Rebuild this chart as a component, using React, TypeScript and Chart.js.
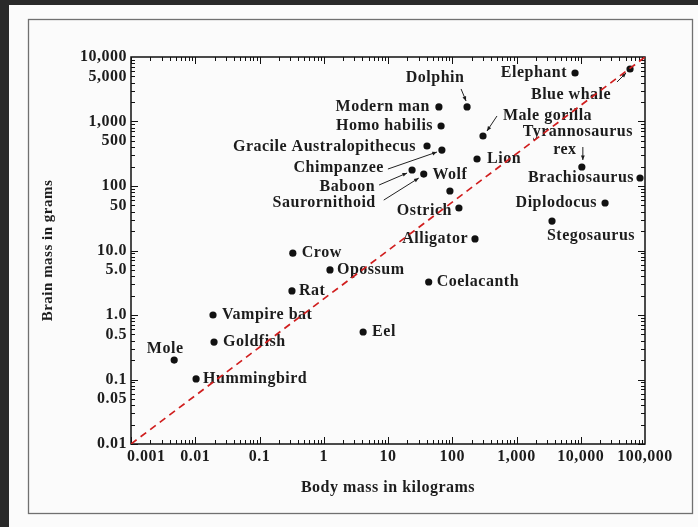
import React, { useEffect, useRef } from "react";
import { Chart, registerables } from "chart.js";

Chart.register(...registerables);

// ---------------- data ----------------
const species = [
  "Hummingbird", "Mole", "Goldfish", "Vampire bat", "Rat", "Crow", "Opossum", "Eel",
  "Coelacanth", "Alligator", "Ostrich", "Wolf", "Saurornithoid", "Baboon", "Chimpanzee",
  "Gracile Australopithecus", "Homo habilis", "Modern man", "Dolphin", "Male gorilla", "Lion",
  "Elephant", "Blue whale", "Tyrannosaurus\nrex", "Brachiosaurus", "Diplodocus", "Stegosaurus",
];
const bodyMassKg = [
  0.0103, 0.0047, 0.0196, 0.0189, 0.32, 0.33, 1.25, 4.1,
  43, 226, 127, 92, 36, 23.7, 69,
  40.5, 67, 62, 170, 301, 243,
  8150, 58500, 10400, 83600, 23900, 3570,
];
const brainMassG = [
  0.102, 0.2, 0.38, 1.0, 2.36, 9.1, 5.0, 0.545,
  3.25, 15.1, 45.6, 83.6, 153, 177, 361,
  417, 851, 1680, 1680, 596, 262,
  5650, 6520, 197, 133, 54.5, 28.6,
];
const xTickValues = [0.001, 0.01, 0.1, 1, 10, 100, 1000, 10000, 100000];
const xTickLabels = ["0.001", "0.01", "0.1", "1", "10", "100", "1,000", "10,000", "100,000"];
const yTickValues = [0.01, 0.05, 0.1, 0.5, 1, 5, 10, 50, 100, 500, 1000, 5000, 10000];
const yTickLabels = ["0.01", "0.05", "0.1", "0.5", "1.0", "5.0", "10.0", "50", "100", "500", "1,000", "5,000", "10,000"];
const trendBodyKg = [0.001, 100000];
const trendBrainG = [0.01, 10000];
const xTitle = "Body mass in kilograms";
const yTitle = "Brain mass in grams";

// ---------------- label layout (pixel offsets from each point) ----------------
type Lay = { dx: number; dy: number; align: CanvasTextAlign; dx2?: number; dy2?: number; align2?: CanvasTextAlign; arrow?: number[] };
const labelLayout: Lay[] = [
  { dx: 7, dy: 0, align: "left" },          // Hummingbird
  { dx: -9, dy: -11, align: "center" },     // Mole
  { dx: 9, dy: 0, align: "left" },          // Goldfish
  { dx: 9, dy: 0, align: "left" },          // Vampire bat
  { dx: 7, dy: 0, align: "left" },          // Rat
  { dx: 9, dy: 0, align: "left" },          // Crow
  { dx: 7, dy: 0, align: "left" },          // Opossum
  { dx: 9, dy: 0, align: "left" },          // Eel
  { dx: 8, dy: 0, align: "left" },          // Coelacanth
  { dx: -7, dy: 0, align: "right" },        // Alligator
  { dx: -7, dy: 3, align: "right" },        // Ostrich
  { dx: 0, dy: -16, align: "center" },      // Wolf
  { dx: -48, dy: 29, align: "right", arrow: [-40, 26, -5, 4] },   // Saurornithoid
  { dx: -37, dy: 17, align: "right", arrow: [-33, 15, -5, 3] },   // Baboon
  { dx: -58, dy: 18, align: "right", arrow: [-54, 19, -5, 2] },   // Chimpanzee
  { dx: -11, dy: 1, align: "right" },       // Gracile Australopithecus
  { dx: -8, dy: 0, align: "right" },        // Homo habilis
  { dx: -9, dy: 0, align: "right" },        // Modern man
  { dx: -32, dy: -29, align: "center", arrow: [-6, -18, -1, -6] }, // Dolphin
  { dx: 20, dy: -20, align: "left", arrow: [14, -20, 4, -5] },     // Male gorilla
  { dx: 10, dy: 0, align: "left" },         // Lion
  { dx: -8, dy: 0, align: "right" },        // Elephant
  { dx: -59, dy: 26, align: "center", arrow: [-13, 13, -4, 4] },   // Blue whale
  { dx: -4, dy: -35, align: "center", dx2: -17, dy2: -17, align2: "center", arrow: [1, -20, 1, -7] }, // T. rex
  { dx: -6, dy: 0, align: "right" },        // Brachiosaurus
  { dx: -8, dy: 0, align: "right" },        // Diplodocus
  { dx: 39, dy: 15, align: "center" },      // Stegosaurus
];

const FONT = "'Liberation Serif', 'Times New Roman', serif";
const INK = "#1c1c1c";
const SPACING = "0.5px";

function drawArrow(ctx: CanvasRenderingContext2D, x1: number, y1: number, x2: number, y2: number) {
  ctx.beginPath();
  ctx.moveTo(x1, y1);
  ctx.lineTo(x2, y2);
  ctx.stroke();
  const a = Math.atan2(y2 - y1, x2 - x1);
  const s = 5;
  ctx.beginPath();
  ctx.moveTo(x2, y2);
  ctx.lineTo(x2 - s * Math.cos(a - 0.4), y2 - s * Math.sin(a - 0.4));
  ctx.lineTo(x2 - s * Math.cos(a + 0.4), y2 - s * Math.sin(a + 0.4));
  ctx.closePath();
  ctx.fill();
}

const decorPlugin = {
  id: "decor",
  beforeDraw(chart: any) {
    const ctx: CanvasRenderingContext2D = chart.ctx;
    ctx.save();
    ctx.fillStyle = "#fbfbfb";
    ctx.fillRect(0, 0, chart.width, chart.height);
    ctx.fillStyle = "#2a2a2a";
    ctx.fillRect(0, 0, 9, chart.height);
    ctx.fillRect(0, 0, chart.width, 5);
    ctx.strokeStyle = "#707070";
    ctx.lineWidth = 1.3;
    ctx.strokeRect(28.5, 19.5, 664, 494);
    ctx.restore();
    (ctx as any).letterSpacing = SPACING;
  },
  beforeDatasetsDraw(chart: any) {
    const ctx: CanvasRenderingContext2D = chart.ctx;
    const xs = chart.scales.x;
    const ys = chart.scales.y;
    const { left, right, top, bottom } = chart.chartArea;
    ctx.save();
    (ctx as any).letterSpacing = SPACING;
    // plot frame
    ctx.strokeStyle = "#111";
    ctx.lineWidth = 1.5;
    ctx.strokeRect(left, top, right - left, bottom - top);
    // inward log ticks
    ctx.lineWidth = 1;
    ctx.beginPath();
    for (let d = -3; d <= 4; d++) {
      for (let m = 1; m <= 9; m++) {
        const v = m * Math.pow(10, d);
        const px = Math.round(xs.getPixelForValue(v)) + 0.5;
        const L = m === 1 ? 7 : 4;
        ctx.moveTo(px, bottom); ctx.lineTo(px, bottom - L);
        ctx.moveTo(px, top); ctx.lineTo(px, top + L);
      }
    }
    for (let d = -2; d <= 3; d++) {
      for (let m = 1; m <= 9; m++) {
        const v = m * Math.pow(10, d);
        const py = Math.round(ys.getPixelForValue(v)) + 0.5;
        const L = m === 1 ? 7 : 4;
        ctx.moveTo(left, py); ctx.lineTo(left + L, py);
        ctx.moveTo(right, py); ctx.lineTo(right - L, py);
      }
    }
    ctx.stroke();
    // x tick labels
    ctx.fillStyle = INK;
    ctx.font = `bold 16px ${FONT}`;
    ctx.textBaseline = "middle";
    xTickValues.forEach((v, i) => {
      const px = xs.getPixelForValue(v);
      if (i === 0) {
        ctx.textAlign = "left";
        ctx.fillText(xTickLabels[i], px - 4, bottom + 13);
      } else {
        ctx.textAlign = "center";
        ctx.fillText(xTickLabels[i], px, bottom + 13);
      }
    });
    // point labels + arrows
    ctx.strokeStyle = "#222";
    ctx.fillStyle = INK;
    ctx.lineWidth = 1;
    species.forEach((name, i) => {
      const lay = labelLayout[i];
      const px = xs.getPixelForValue(bodyMassKg[i]);
      const py = ys.getPixelForValue(brainMassG[i]);
      const lines = name.split("\n");
      ctx.textAlign = lay.align;
      ctx.fillText(lines[0], px + lay.dx, py + lay.dy);
      if (lines[1]) {
        ctx.textAlign = lay.align2 || lay.align;
        ctx.fillText(lines[1], px + (lay.dx2 ?? lay.dx), py + (lay.dy2 ?? lay.dy + 18));
      }
      if (lay.arrow) {
        const [tx, ty, hx, hy] = lay.arrow;
        drawArrow(ctx, px + tx, py + ty, px + hx, py + hy);
      }
    });
    ctx.restore();
  },
};

export default function App() {
  const ref = useRef<HTMLCanvasElement>(null);
  useEffect(() => {
    document.body.style.margin = "0";
    const canvas = ref.current!;
    const chart = new Chart(canvas, {
      type: "scatter",
      data: {
        datasets: [
          {
            type: "line",
            label: "trend",
            data: trendBodyKg.map((x, i) => ({ x, y: trendBrainG[i] })),
            borderColor: "#d01e1e",
            borderWidth: 1.7,
            borderDash: [7, 5],
            pointRadius: 0,
            fill: false,
            order: 0,
          } as any,
          {
            type: "scatter",
            label: "species",
            data: species.map((_, i) => ({ x: bodyMassKg[i], y: brainMassG[i] })),
            backgroundColor: "#111",
            borderWidth: 0,
            pointRadius: 3.6,
            clip: false,
            order: 1,
          } as any,
        ],
      },
      options: {
        responsive: false,
        devicePixelRatio: 1,
        animation: false,
        layout: { padding: { left: 0, top: 57, right: 53, bottom: 0 } },
        plugins: { legend: { display: false }, tooltip: { enabled: false } },
        events: [],
        scales: {
          x: {
            type: "logarithmic",
            min: 0.001,
            max: 100000,
            grid: { display: false, drawTicks: false },
            border: { display: false },
            ticks: { display: false },
            afterBuildTicks: (s: any) => { s.ticks = xTickValues.map((v) => ({ value: v })); },
            afterFit: (s: any) => { s.height = 83; },
            title: {
              display: true,
              text: xTitle,
              color: INK,
              font: { family: FONT, size: 16, weight: "bold" },
              padding: { top: 0, bottom: 30 },
            },
          },
          y: {
            type: "logarithmic",
            min: 0.01,
            max: 10000,
            grid: { display: false, drawTicks: false },
            border: { display: false },
            afterBuildTicks: (s: any) => { s.ticks = yTickValues.map((v) => ({ value: v })); },
            afterFit: (s: any) => { s.width = 131; },
            ticks: {
              autoSkip: false,
              padding: 4,
              color: INK,
              font: { family: FONT, size: 16, weight: "bold" },
              callback: (_v: any, i: number) => yTickLabels[i],
            },
            title: {
              display: true,
              text: yTitle,
              color: INK,
              font: { family: FONT, size: 15, weight: "bold" },
              padding: { top: 39, bottom: 0 },
            },
          },
        },
      },
      plugins: [decorPlugin],
    } as any);
    return () => chart.destroy();
  }, []);
  return (
    <div style={{ width: 698, height: 527 }}>
      <canvas ref={ref} width={698} height={527} style={{ display: "block", width: 698, height: 527 }} />
    </div>
  );
}
